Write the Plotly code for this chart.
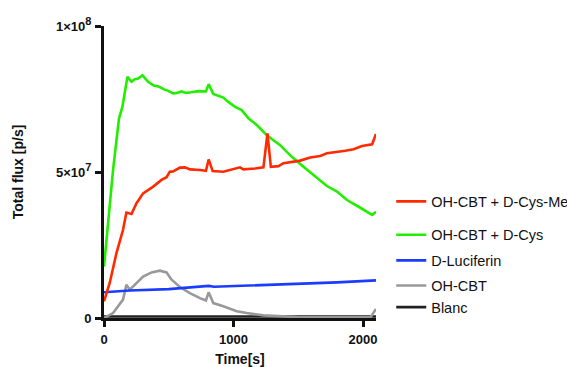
import numpy as np
import plotly.graph_objects as go

SCALE = 1e7  # values below are in units of 10^7 p/s

# OH-CBT + D-Cys-Me
t_cysme = [0, 44, 96, 147, 173, 212, 251, 302, 380, 444, 483, 508, 534, 586, 625, 663,
           741, 787, 808, 839, 921, 998, 1050, 1076, 1128, 1166, 1231, 1262, 1288, 1347,
           1386, 1450, 1515, 1592, 1669, 1721, 1799, 1863, 1927, 1992, 2070, 2100]
v_cysme = [0.57, 1.20, 2.22, 3.02, 3.61, 3.56, 3.93, 4.27, 4.50, 4.73, 4.82, 5.01, 5.02,
           5.15, 5.16, 5.09, 5.07, 5.04, 5.43, 5.03, 5.01, 5.09, 5.16, 5.09, 5.10, 5.12,
           5.16, 6.32, 5.18, 5.20, 5.30, 5.34, 5.39, 5.50, 5.55, 5.64, 5.68, 5.73, 5.78,
           5.89, 5.95, 6.30]

# OH-CBT + D-Cys
t_cys = [0, 70, 116, 142, 181, 212, 238, 263, 297, 341, 380, 426, 464, 496, 534, 565,
         599, 632, 676, 728, 787, 808, 844, 882, 921, 960, 1012, 1063, 1115, 1180, 1257,
         1360, 1450, 1540, 1631, 1721, 1799, 1876, 1966, 2070, 2100]
v_cys = [1.76, 5.07, 6.84, 7.23, 8.26, 8.09, 8.18, 8.20, 8.31, 8.09, 7.97, 7.92, 7.83,
         7.78, 7.69, 7.71, 7.76, 7.71, 7.73, 7.77, 7.76, 8.01, 7.67, 7.60, 7.55, 7.40,
         7.23, 7.12, 6.84, 6.61, 6.26, 5.92, 5.52, 5.18, 4.84, 4.52, 4.33, 4.04, 3.81,
         3.53, 3.64]

# D-Luciferin
t_luc = [0, 200, 500, 750, 808, 850, 1050, 1300, 1550, 1800, 2100]
v_luc = [0.88, 0.94, 0.99, 1.06, 1.10, 1.07, 1.10, 1.14, 1.19, 1.22, 1.29]

# OH-CBT
t_cbt = [0, 70, 147, 173, 199, 251, 302, 367, 431, 483, 522, 586, 663, 741, 787, 808,
         844, 921, 1025, 1102, 1231, 1489, 1747, 2057, 2100]
v_cbt = [0.0, 0.17, 0.63, 1.14, 0.97, 1.20, 1.42, 1.56, 1.62, 1.56, 1.31, 1.06, 0.85,
         0.68, 0.60, 0.88, 0.51, 0.40, 0.23, 0.17, 0.09, 0.03, 0.02, 0.02, 0.31]

# Blanc
t_blanc = [0, 2100]
v_blanc = [0.05, 0.05]

y_tickvals = [0, 5e7, 1e8]
y_ticktext = ["0",
              "5×10<sup><span style='font-size:11px'>7</span></sup>",
              "1×10<sup><span style='font-size:11px'>8</span></sup>"]
x_tickvals = [0, 1000, 2000]

FONT = "Liberation Sans, Arial, sans-serif"

# name, time, value, colour, legend id, legend row centre (paper y)
series = [
    ("Blanc", t_blanc, v_blanc, "#222222", "legend5", 0.037),
    ("OH-CBT", t_cbt, v_cbt, "#999999", "legend4", 0.111),
    ("D-Luciferin", t_luc, v_luc, "#1a3cff", "legend3", 0.197),
    ("OH-CBT + D-Cys", t_cys, v_cys, "#22ee00", "legend2", 0.285),
    ("OH-CBT + D-Cys-Me", t_cysme, v_cysme, "#ff2a00", "legend", 0.399),
]

fig = go.Figure()
legends = {}
for name, t, v, color, leg, ly in series:
    fig.add_trace(go.Scatter(
        x=t, y=np.array(v) * SCALE, mode="lines", name=name,
        line=dict(color=color, width=2.6), legend=leg,
    ))
    legends[leg] = dict(
        x=1.056, y=ly, xanchor="left", yanchor="middle",
        font=dict(family=FONT, size=14.5, color="#111"),
        bgcolor="rgba(0,0,0,0)", borderwidth=0,
        tracegroupgap=0, itemwidth=30,
    )

fig.update_layout(
    width=567, height=367,
    margin=dict(l=104, r=191, t=26, b=49, autoexpand=False),
    plot_bgcolor="white", paper_bgcolor="white",
    showlegend=True,
    **legends,
    xaxis=dict(
        range=[0, 2100], tickvals=x_tickvals, ticktext=[str(v) for v in x_tickvals],
        showgrid=False, zeroline=False, showline=True, linecolor="#111", linewidth=3,
        ticks="outside", ticklen=6, tickwidth=3, tickcolor="#111", automargin=False,
        ticklabelstandoff=1,
        tickfont=dict(family=FONT, size=13, color="#111", weight="bold"),
        title=dict(text="<b>Time[s]</b>", font=dict(family=FONT, size=14, color="#111"),
                   standoff=9),
    ),
    yaxis=dict(
        range=[0, 1e8], tickvals=y_tickvals, ticktext=y_ticktext,
        showgrid=False, zeroline=False, showline=True, linecolor="#111", linewidth=3,
        ticks="outside", ticklen=6, tickwidth=3, tickcolor="#111", automargin=False,
        ticklabelstandoff=1,
        tickfont=dict(family=FONT, size=13, color="#111", weight="bold"),
        title=dict(text="<b>Total flux [p/s]</b>", font=dict(family=FONT, size=14, color="#111"),
                   standoff=30),
    ),
)

fig.write_html("out.html")
